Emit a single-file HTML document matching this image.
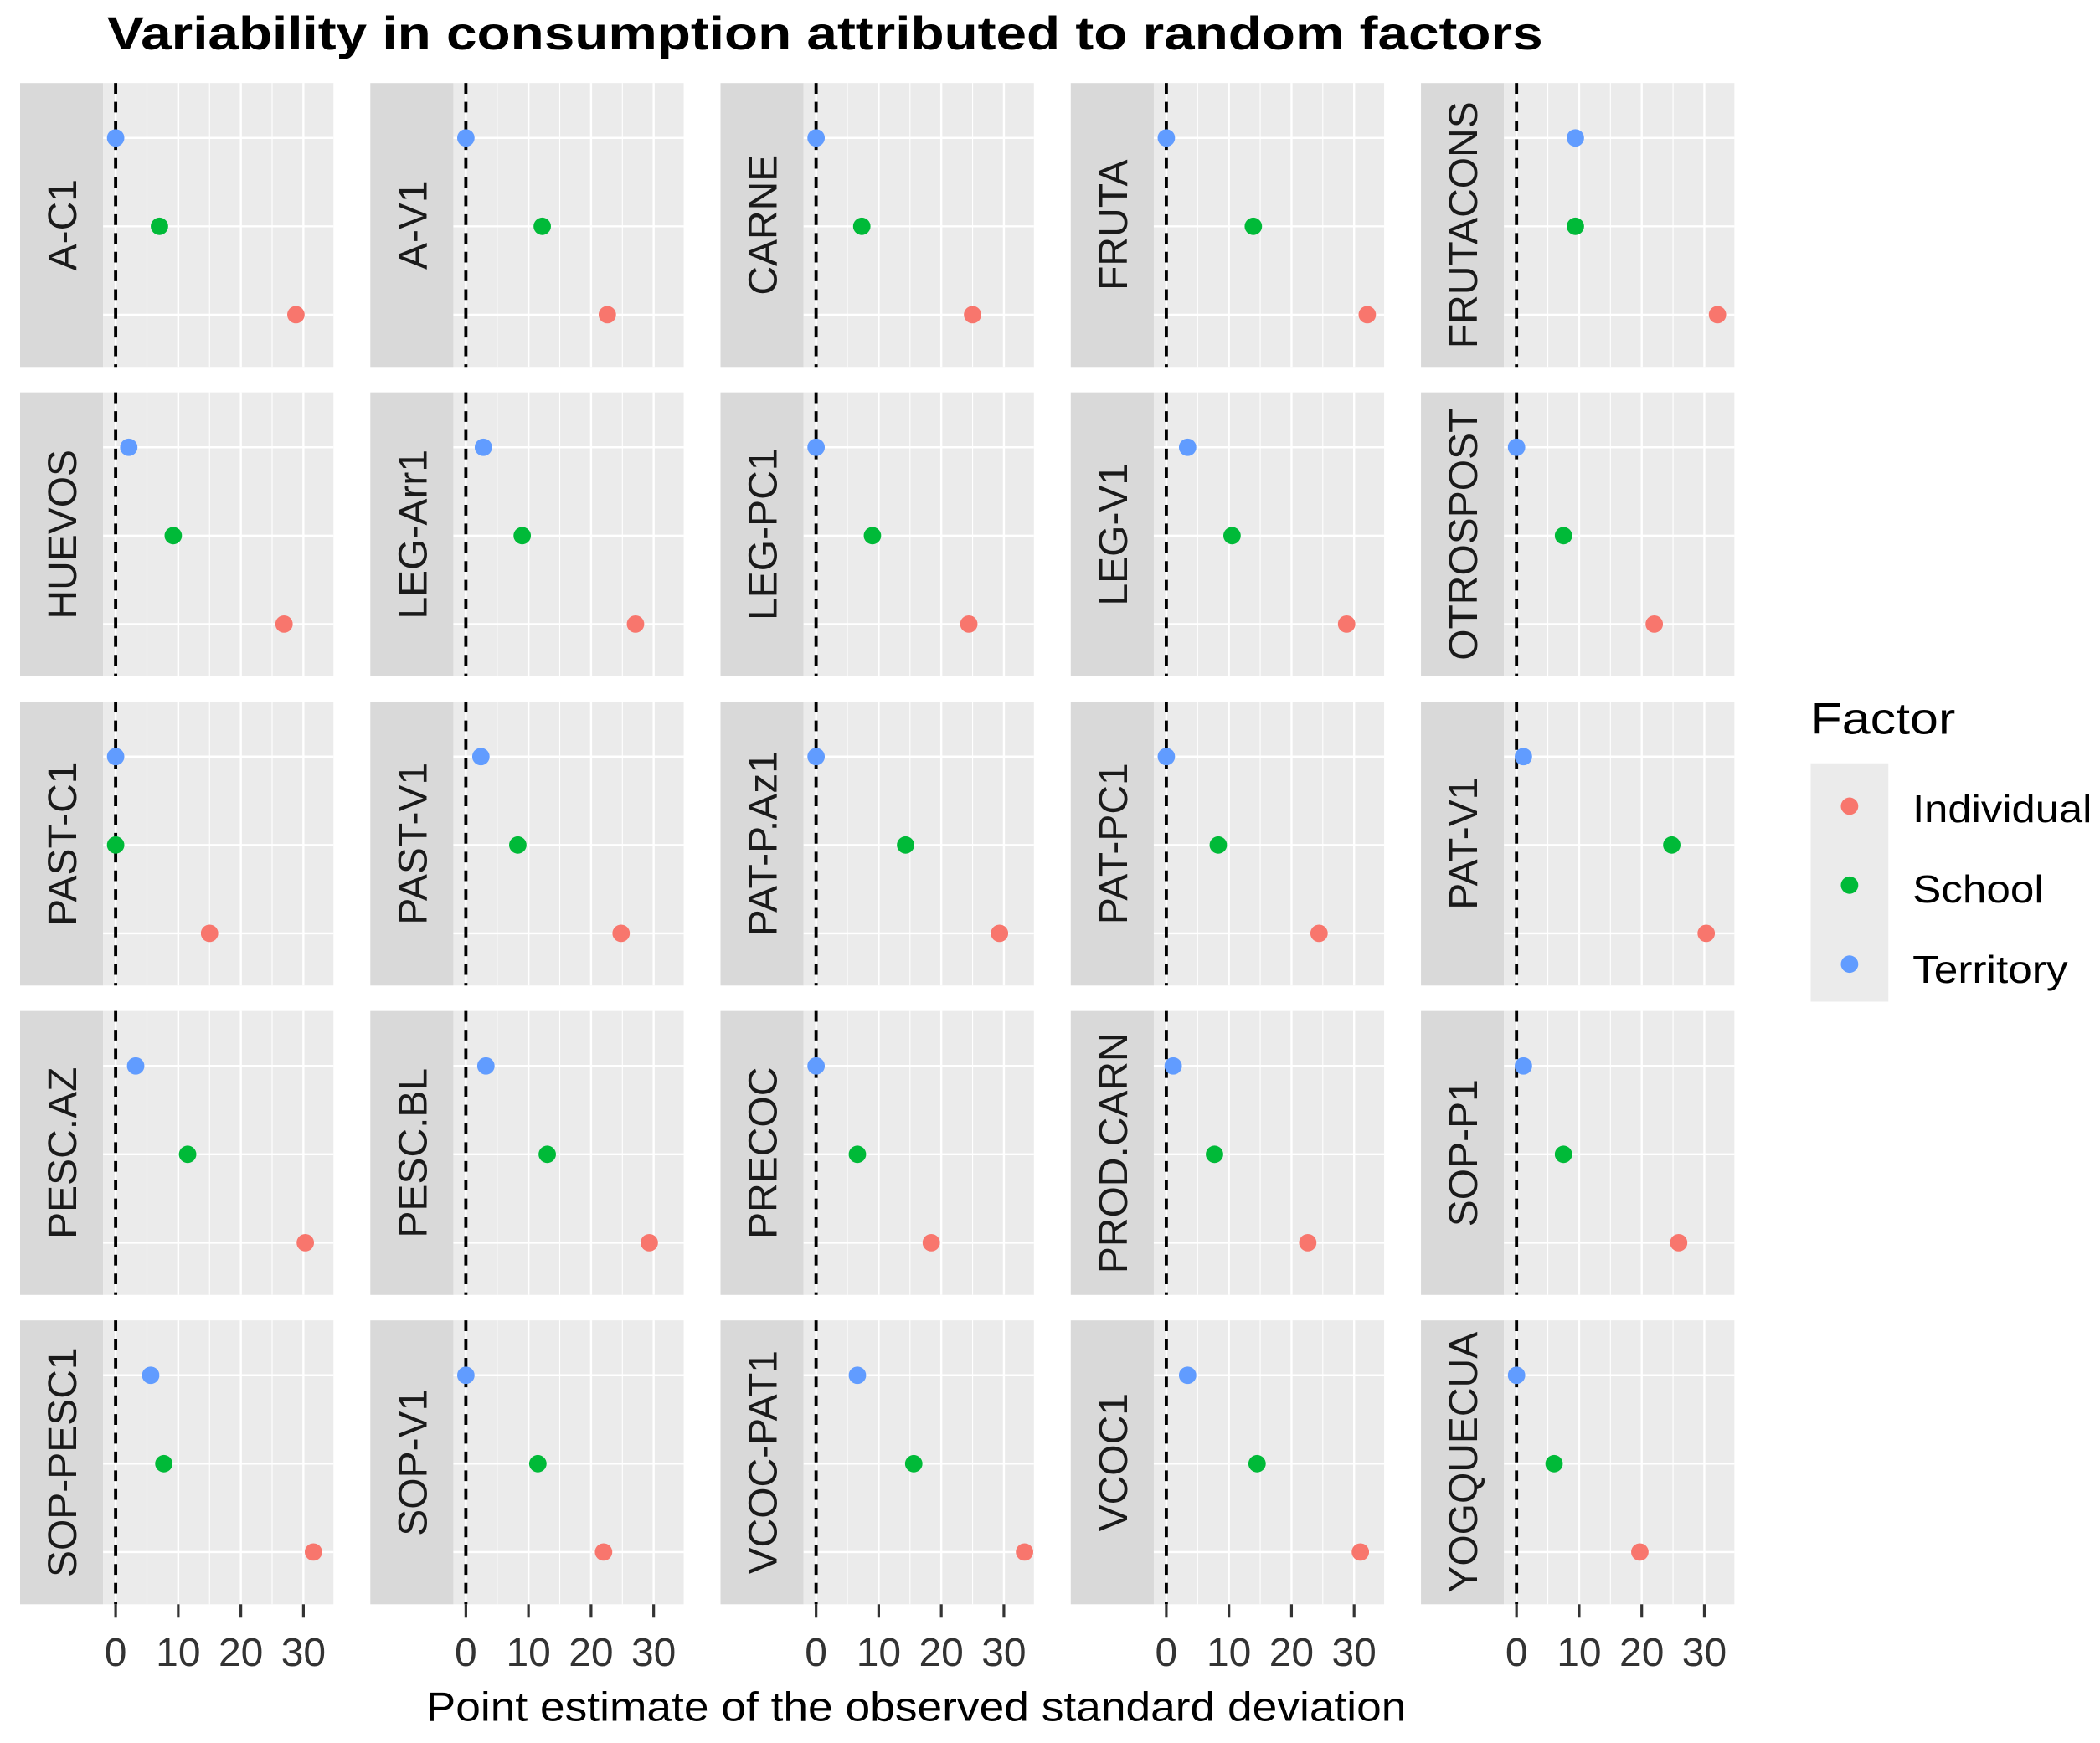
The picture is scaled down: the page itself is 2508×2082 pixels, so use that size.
<!DOCTYPE html>
<html><head><meta charset="utf-8"><style>
html,body{margin:0;padding:0;background:#fff;}
svg{display:block;font-family:"Liberation Sans",sans-serif;}
</style></head><body>
<svg id="chart" width="2508" height="2082" viewBox="0 0 1568 1301.6" preserveAspectRatio="none" xmlns="http://www.w3.org/2000/svg">
<rect x="0" y="0" width="1568" height="1302" fill="#fff"/>
<text x="80" y="37" font-size="35" font-weight="bold" fill="#000" textLength="1072" lengthAdjust="spacingAndGlyphs">Variability in consumption attributed to random factors</text>
<text x="318" y="1285" font-size="31" fill="#000" textLength="732" lengthAdjust="spacingAndGlyphs">Point estimate of the observed standard deviation</text>
<g id="panels"></g>
<g>
<text x="1352" y="548" font-size="33" fill="#000" textLength="108" lengthAdjust="spacingAndGlyphs">Factor</text>
<rect x="1352" y="570" width="58" height="178" fill="#ebebeb"/>
<circle cx="1381" cy="602" r="6.5" fill="#F8766D"/>
<text x="1428" y="614" font-size="29" fill="#000" textLength="134" lengthAdjust="spacingAndGlyphs">Individual</text>
<circle cx="1381" cy="661" r="6.5" fill="#00BA38"/>
<text x="1428" y="674" font-size="29" fill="#000" textLength="98" lengthAdjust="spacingAndGlyphs">School</text>
<circle cx="1381" cy="720" r="6.5" fill="#619CFF"/>
<text x="1428" y="734" font-size="29" fill="#000" textLength="116" lengthAdjust="spacingAndGlyphs">Territory</text>
</g>
</svg>
<script>
const categories = ["A-C1","A-V1","CARNE","FRUTA","FRUTACONS","HUEVOS","LEG-Arr1","LEG-PC1","LEG-V1","OTROSPOST","PAST-C1","PAST-V1","PAT-P.Az1","PAT-PC1","PAT-V1","PESC.AZ","PESC.BL","PRECOC","PROD.CARN","SOP-P1","SOP-PESC1","SOP-V1","VCOC-PAT1","VCOC1","YOGQUECUA"];
const territory = [0,0,0,0,9.4, 2.1,2.8,0,3.4,0, 0,2.4,0,0,1.1, 3.2,3.2,0,1.1,1.1, 5.6,0,6.6,3.4,0];
const school = [7.0,12.2,7.3,13.9,9.4, 9.2,9.0,9.0,10.5,7.5, 0,8.3,14.3,8.3,24.8, 11.5,13.0,6.6,7.7,7.5, 7.7,11.5,15.6,14.5,6.0];
const individual = [28.8,22.6,25.0,32.1,32.1, 26.9,27.1,24.4,28.8,22.0, 15.0,24.8,29.3,24.4,30.3, 30.3,29.3,18.4,22.6,25.9, 31.6,22.0,33.3,31.0,19.7];
const xTicks = [0,10,20,30];
const minorTicks = [5,15,25,35];
const factors = ["Territory","School","Individual"];
const colors = {Territory:"#619CFF",School:"#00BA38",Individual:"#F8766D"};

const NS="http://www.w3.org/2000/svg";
const g=document.getElementById("panels");
const colX=[15,276.5,538,799.5,1061], rowY=[62,293,524,755,986];
const stripW=62, plotW=172, panelH=212, xmin=-2.0, xmax=34.8;
function mk(t,a,p){const e=document.createElementNS(NS,t);for(const k in a)e.setAttribute(k,a[k]);(p||g).appendChild(e);return e;}
categories.forEach((cat,i)=>{
  const c=i%5, r=Math.floor(i/5);
  const sx=colX[c], px=sx+stripW, top=rowY[r];
  const xs=v=>px+(v-xmin)/(xmax-xmin)*plotW;
  const ys=k=>top+41+k*66;
  const pg=mk("g",{});
  
  
  const st=mk("rect",{x:sx,y:top,width:stripW,height:panelH,fill:"#d9d9d9"},pg);
  
  
  const lab=mk("text",{x:0,y:0,"font-size":30,fill:"#1a1a1a","text-anchor":"middle",transform:`translate(${sx+stripW/2+11},${top+panelH/2}) rotate(-90)`},pg);
  lab.textContent=cat;
  
  
  mk("rect",{x:px,y:top,width:plotW,height:panelH,fill:"#ebebeb"},pg);
  minorTicks.forEach(v=>{if(v<xmax)mk("line",{x1:xs(v),x2:xs(v),y1:top,y2:top+panelH,stroke:"#fff","stroke-width":0.7},pg);});
  xTicks.forEach(v=>mk("line",{x1:xs(v),x2:xs(v),y1:top,y2:top+panelH,stroke:"#fff","stroke-width":1.5},pg));
  factors.forEach((f,k)=>mk("line",{x1:px,x2:px+plotW,y1:ys(k),y2:ys(k),stroke:"#fff","stroke-width":1.5},pg));
  const dl=mk("line",{x1:xs(0),x2:xs(0),y1:top,y2:top+panelH,stroke:"#000","stroke-width":2.4,"stroke-dasharray":"8,6"},pg);
  
  
  const vals={Territory:territory[i],School:school[i],Individual:individual[i]};
  factors.forEach((f,k)=>{
    const p=mk("circle",{cx:xs(vals[f]),cy:ys(k),r:6.5,fill:colors[f]},pg);
    
    
  });
  if(r===4){
    xTicks.forEach(v=>{
      mk("line",{x1:xs(v),x2:xs(v),y1:top+panelH,y2:top+panelH+10,stroke:"#333","stroke-width":2},pg);
      const t=mk("text",{x:xs(v),y:top+panelH+46,"font-size":30,fill:"#333","text-anchor":"middle"},pg);
      t.textContent=v;
      
      
    });
  }
});
</script>
</body></html>
